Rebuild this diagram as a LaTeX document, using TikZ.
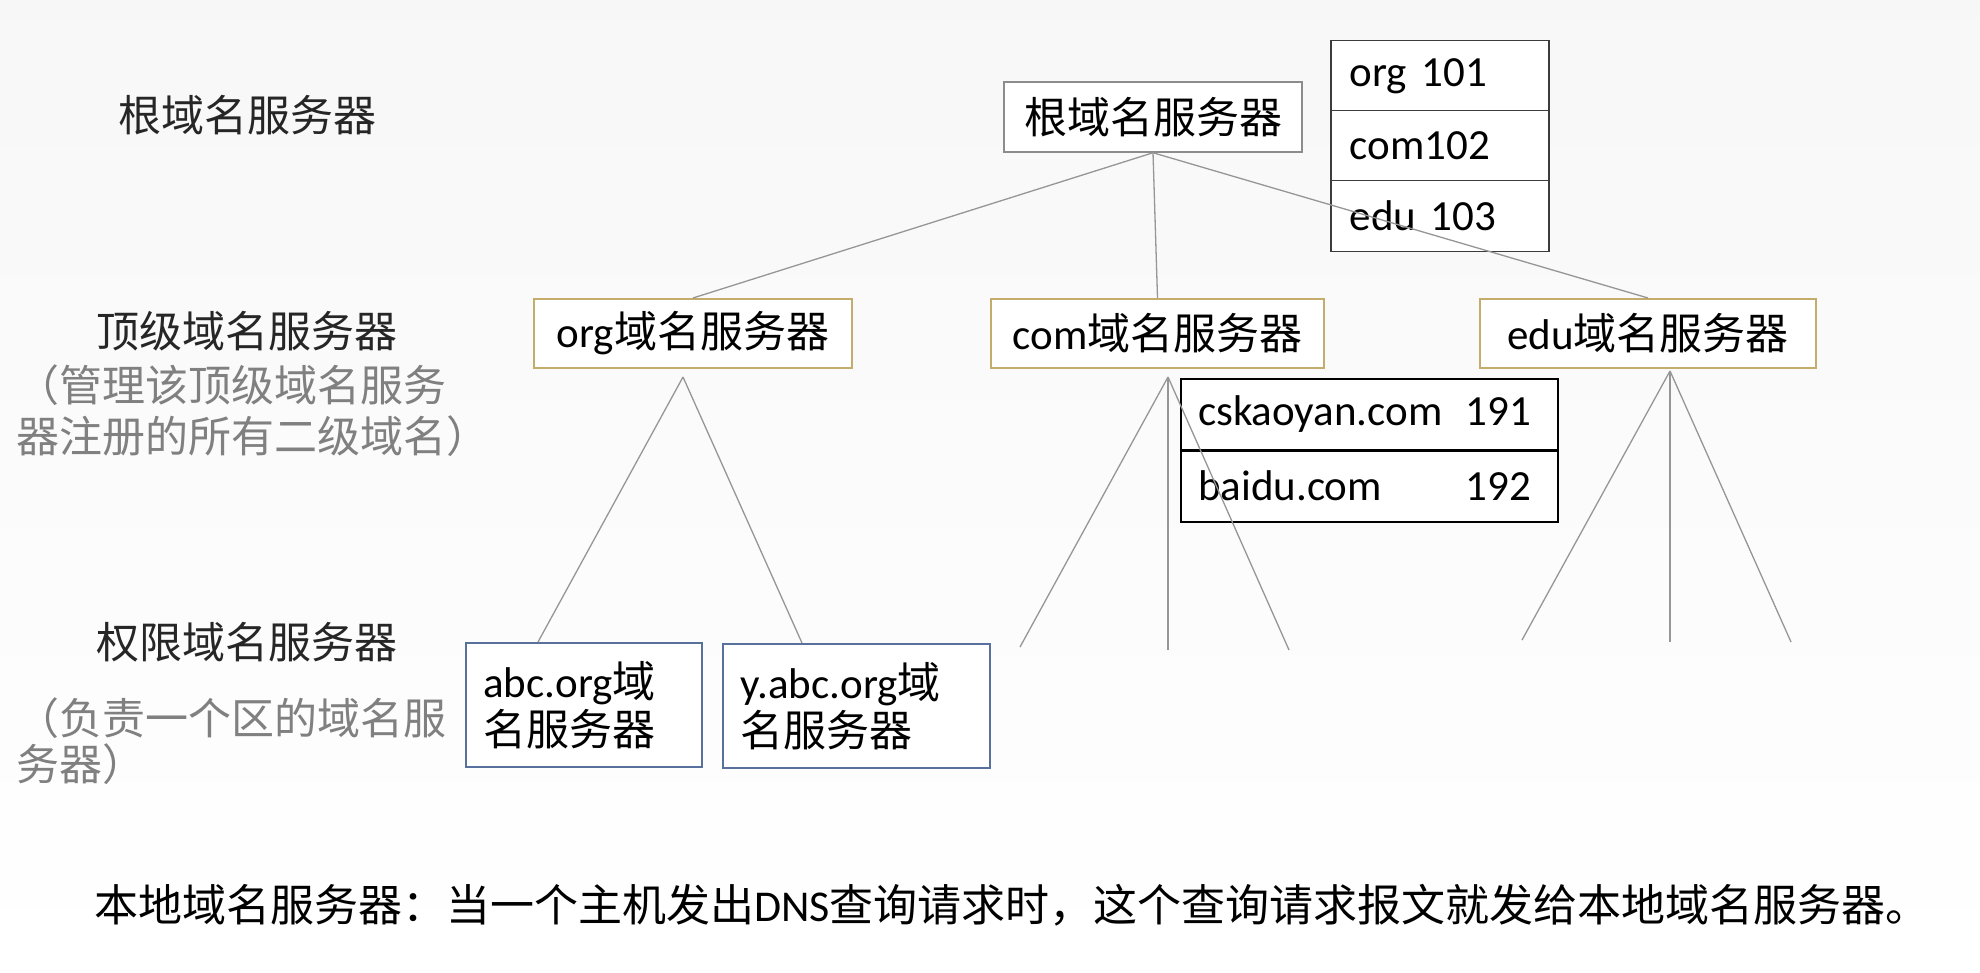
\documentclass[tikz,border=0pt]{standalone}
\usepackage{fontspec}
\setmainfont{Carlito}
\newfontfamily\zhfont{Noto Sans CJK SC}
\newcommand{\zh}[1]{{\zhfont #1}}
\definecolor{rootgray}{RGB}{140,140,140}
\definecolor{tablegray}{RGB}{60,60,60}
\definecolor{tldgold}{RGB}{196,172,108}
\definecolor{authblue}{RGB}{88,112,156}
\definecolor{linegray}{RGB}{150,150,150}
\begin{document}
\begin{tikzpicture}[x=1pt, y=-1pt,
    box/.style={draw, fill=white, rectangle, inner sep=0pt, font=\fontsize{43}{51}\selectfont},
    rootbox/.style={box, draw=rootgray, line width=1.5pt, minimum width=298pt, minimum height=70pt},
    tldbox/.style={box, draw=tldgold, line width=2pt, minimum height=69pt},
    tabrow/.style={box, anchor=west, align=left, minimum height=71pt},
    authbox/.style={box, draw=authblue, line width=1.5pt, anchor=north west, align=left,
        minimum height=124pt, text width=#1, font=\fontsize{43}{48}\selectfont},
    link/.style={draw=linegray, line width=1.3pt},
    level/.style={font=\fontsize{43}{51}\selectfont, text=black!85},
    remark/.style={anchor=west, align=left, inner sep=0pt, text=gray}]
\useasboundingbox (0,0) rectangle (1980,972);
\shade[top color=gray!6, bottom color=white] (0,0) rectangle (1980,972);

% level names on the left
\node[level] (lroot) at (247,115) {\zh{根域名服务器}};
\node[level] (ltld) at (247,331) {\zh{顶级域名服务器}};
\node[remark, font=\fontsize{43}{51}\selectfont] (rtld) at (16,411)
    {\zh{（管理该顶级域名服务}\\\zh{器注册的所有二级域名）}};
\node[level] (lauth) at (247,642) {\zh{权限域名服务器}};
\node[remark, font=\fontsize{43}{46}\selectfont] (rauth) at (16,741)
    {\zh{（负责一个区的域名服}\\\zh{务器）}};

% root server and its table
\node[rootbox] (root) at (1153,117) {\zh{根域名服务器}};
\foreach \txt/\y [count=\i] in {org 101/76, com102/146, edu 103/216}
    \node[tabrow, draw=tablegray, line width=1.5pt, text width=180pt, inner xsep=19pt]
        (tld\i) at (1330,\y) {\txt};

% top level servers
\node[tldbox, minimum width=318pt] (org) at (693,333.5) {org\zh{域名服务器}};
\node[tldbox, minimum width=333pt] (com) at (1157.5,333.5) {com\zh{域名服务器}};
\node[tldbox, minimum width=336pt] (edu) at (1648,333.5) {edu\zh{域名服务器}};

% table of com
\node[tabrow, draw=black, line width=2pt, text width=343pt, inner xsep=17pt]
    (cs) at (1180,414.5) {\makebox[268pt][l]{cskaoyan.com}191};
\node[tabrow, draw=black, line width=2pt, text width=343pt, inner xsep=17pt]
    (bd) at (1180,486) {\makebox[268pt][l]{baidu.com}192};

% authoritative servers
\node[authbox=201pt, inner xsep=17.5pt] (abc) at (465,642) {abc.org\zh{域}\\\zh{名服务器}};
\node[authbox=231pt, inner xsep=18pt] (yabc) at (722,643) {y.abc.org\zh{域}\\\zh{名服务器}};

% fan points
\coordinate (orgtip) at (683,377);
\coordinate (comtip) at (1168,377);
\coordinate (edutip) at (1670,371);
\coordinate (com1) at (1020,647);
\coordinate (com2) at (1168,650);
\coordinate (com3) at (1289,650);
\coordinate (edu1) at (1522,640);
\coordinate (edu2) at (1670,642);
\coordinate (edu3) at (1791,642);

% connectors
\foreach \n in {org,com,edu}
    \draw[link] (root.south) -- (\n.north);
\draw[link] (orgtip) -- ([xshift=73pt]abc.north west);
\draw[link] (orgtip) -- ([xshift=80pt]yabc.north west);
\foreach \n in {1,2,3}
{
    \draw[link] (comtip) -- (com\n);
    \draw[link] (edutip) -- (edu\n);
}

% note at the bottom
\node[anchor=west, inner sep=0pt, font=\fontsize{44}{52}\selectfont] (note) at (94,905)
    {\zh{本地域名服务器：当一个主机发出}DNS\zh{查询请求时，这个查询请求报文就发给本地域名服务器。}};
\end{tikzpicture}
\end{document}
